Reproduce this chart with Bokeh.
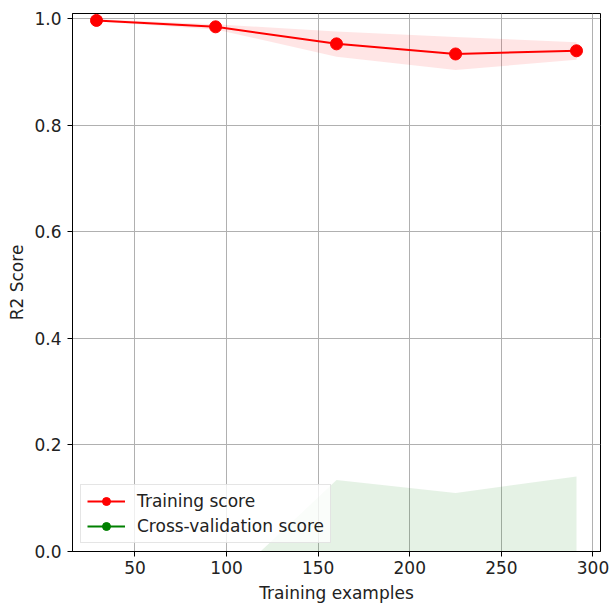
from bokeh.plotting import figure
from bokeh.models import Range1d, FixedTicker, PrintfTickFormatter
from bokeh.embed import file_html
from bokeh.resources import INLINE

train_sizes = [29, 94, 160, 225, 291]
train_mean = [0.997, 0.985, 0.953, 0.934, 0.940]
train_upper = [0.999, 0.990, 0.976, 0.966, 0.956]
train_lower = [0.995, 0.980, 0.929, 0.904, 0.923]
cv_mean = [-1.20, -0.35, -0.10, -0.15, -0.08]
cv_upper = [-0.60, -0.079, 0.134, 0.110, 0.141]
cv_lower = [-1.80, -0.62, -0.33, -0.41, -0.30]

x_ticks = [50, 100, 150, 200, 250, 300]
y_ticks = [0.0, 0.2, 0.4, 0.6, 0.8, 1.0]

FONT = "DejaVu Sans"

p = figure(width=610, height=609, output_backend="svg", toolbar_location=None,
           x_range=Range1d(15.9, 304.1), y_range=Range1d(0, 1.01),
           min_border_left=72, min_border_right=10, min_border_top=13, min_border_bottom=58)

p.varea(x=train_sizes, y1=train_lower, y2=train_upper, fill_color="red", fill_alpha=0.1)
p.varea(x=train_sizes, y1=cv_lower, y2=cv_upper, fill_color="green", fill_alpha=0.1)

p.line(train_sizes, train_mean, line_color="red", line_width=2, legend_label="Training score")
p.scatter(train_sizes, train_mean, size=12, fill_color="red", line_color="red", legend_label="Training score")
p.line(train_sizes, cv_mean, line_color="green", line_width=2, legend_label="Cross-validation score")
p.scatter(train_sizes, cv_mean, size=12, fill_color="green", line_color="green", legend_label="Cross-validation score")

p.xaxis.ticker = FixedTicker(ticks=x_ticks)
p.yaxis.ticker = FixedTicker(ticks=y_ticks)
p.yaxis.formatter = PrintfTickFormatter(format="%.1f")
p.xaxis.axis_label = "Training examples"
p.yaxis.axis_label = "R2 Score"
for ax in (p.xaxis, p.yaxis):
    ax.axis_label_text_font = FONT
    ax.axis_label_text_font_style = "normal"
    ax.axis_label_text_font_size = "17px"
    ax.axis_label_text_color = "#222222"
    ax.major_label_text_font = FONT
    ax.major_label_text_font_size = "17px"
    ax.major_label_text_color = "#222222"
    ax.minor_tick_line_color = None
    ax.major_tick_out = 5
    ax.major_tick_in = 0
    ax.axis_line_color = "black"
    ax.major_tick_line_color = "black"
p.xaxis.major_label_standoff = 4
p.yaxis.major_label_standoff = 6
p.xaxis.axis_label_standoff = 6
p.yaxis.axis_label_standoff = 4

p.xgrid.grid_line_color = "#b0b0b0"
p.ygrid.grid_line_color = "#b0b0b0"
p.xgrid.grid_line_width = 1
p.ygrid.grid_line_width = 1

p.outline_line_color = "black"
p.outline_line_width = 1
p.background_fill_color = "white"
p.border_fill_color = "white"

lg = p.legend[0]
lg.location = "bottom_left"
lg.margin = 8
lg.padding = 6
lg.spacing = 5
lg.label_text_font = FONT
lg.label_text_font_size = "17px"
lg.label_text_color = "#222222"
lg.label_standoff = 12
lg.glyph_width = 38
lg.glyph_height = 20
lg.label_height = 20
lg.border_line_color = "#cccccc"
lg.background_fill_alpha = 0.8

open("out.html", "w").write(file_html(p, INLINE))
